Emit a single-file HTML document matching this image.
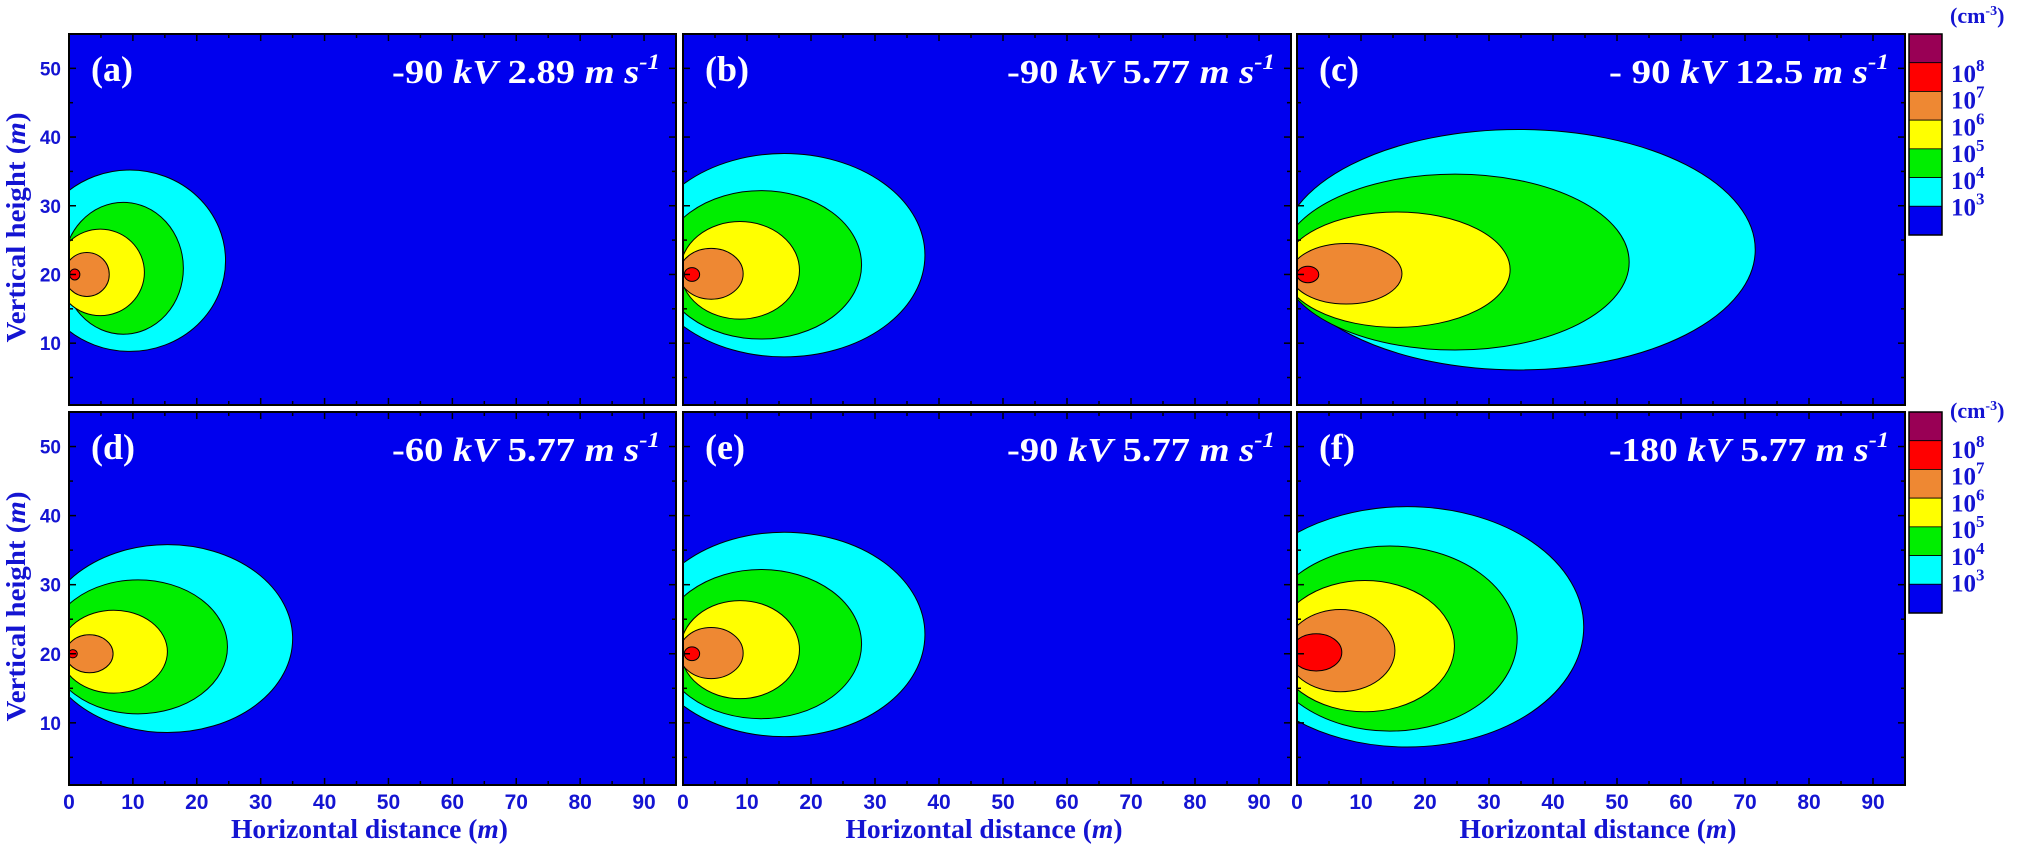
<!DOCTYPE html>
<html><head><meta charset="utf-8"><style>
html,body{margin:0;padding:0;background:#fff;}
svg{display:block;}
</style></head><body>
<svg id="fig" width="2019" height="848" viewBox="0 0 2019 848" xmlns="http://www.w3.org/2000/svg"></svg>
<script>
// ---- data ----
const panelLetters = ["(a)","(b)","(c)","(d)","(e)","(f)"];
const panelVoltage = ["-90","-90","- 90","-60","-90","-180"];
const panelSpeed = ["2.89","5.77","12.5","5.77","5.77","5.77"];
const xTicks = [0,10,20,30,40,50,60,70,80,90];
const yTicks = [10,20,30,40,50];
const levelColors = ["#00ffff","#00ee00","#ffff00","#ee8833","#ff0000"];
const barColors = ["#990055","#ff0000","#ee8833","#ffff00","#00ee00","#00ffff","#0000ee"];
const barExponents = ["8","7","6","5","4","3"];
// contour ellipses [cx, cy, rx, ry] in data units (m), one per panel
const cyanLevel   = [[9.5,22,15,13.2],[15.8,22.8,22,14.8],[34.6,23.6,37,17.5],[15.4,22.2,19.6,13.6],[15.8,22.8,22,14.8],[17.2,23.9,27.6,17.4]];
const greenLevel  = [[8.5,20.9,9.4,9.6],[12.2,21.4,15.7,10.8],[24.7,21.8,27.2,12.8],[10.8,21,14,9.7],[12.2,21.4,15.7,10.8],[14.5,22.2,19.9,13.4]];
const yellowLevel = [[4.9,20.3,6.9,6.3],[8.9,20.6,9.3,7.1],[15.6,20.7,17.7,8.4],[7,20.3,8.4,6],[8.9,20.6,9.3,7.1],[10.6,21.1,14,9.5]];
const orangeLevel = [[2.8,20,3.5,3.2],[4.4,20.1,5,3.7],[7.7,20.1,8.7,4.4],[3.2,20,3.7,2.75],[4.4,20.1,5,3.7],[6.8,20.45,8.5,5.95]];
const redLevel    = [[0.9,20,0.8,0.8],[1.4,20,1.2,1.0],[1.7,20,1.7,1.2],[0.6,20,0.7,0.6],[1.4,20,1.2,1.0],[3.0,20.2,4,2.7]];
const levels = [cyanLevel, greenLevel, yellowLevel, orangeLevel, redLevel];

// ---- layout ----
const NS = "http://www.w3.org/2000/svg";
const svg = document.getElementById("fig");
const colL = [69,683,1297], colR = [676,1291,1905];
const rowT = [34,412], rowB = [405,785];
const XMIN=0, XMAX=95, YMIN=1, YMAX=55;
const BLUE_TXT = "#1414d2";
function mk(tag, attrs, parent){const e=document.createElementNS(NS,tag);for(const k in attrs)e.setAttribute(k,attrs[k]);(parent||svg).appendChild(e);return e;}

const defs = mk("defs",{});
for(let p=0;p<6;p++){
  const c=p%3, r=Math.floor(p/3);
  const L=colL[c], R=colR[c], T=rowT[r], B=rowB[r];
  const sx = v => L + (v-XMIN)/(XMAX-XMIN)*(R-L);
  const sy = v => B - (v-YMIN)/(YMAX-YMIN)*(B-T);
  const kx = (R-L)/(XMAX-XMIN), ky=(B-T)/(YMAX-YMIN);
  const cp = mk("clipPath",{id:"clip"+p},defs);
  mk("rect",{x:L,y:T,width:R-L,height:B-T},cp);
  const g = mk("g",{"clip-path":"url(#clip"+p+")"});
  
  
  const bg = mk("rect",{x:L,y:T,width:R-L,height:B-T,fill:"#0000ee"},g);
  
  
  levels.forEach((lv,i)=>{
    const d=lv[p];
    const e=mk("ellipse",{cx:sx(d[0]),cy:sy(d[1]),rx:d[2]*kx,ry:d[3]*ky,fill:levelColors[i],stroke:"#000","stroke-width":1},g);
    
    
  });
  const fr = mk("rect",{x:L,y:T,width:R-L,height:B-T,fill:"none",stroke:"#000","stroke-width":2});
  
  
  for(let v=0; v<=XMAX; v+=5){
    const x=sx(v), len = v%10===0?7:4;
    mk("line",{x1:x,y1:B,x2:x,y2:B-len,stroke:"#000","stroke-width":1.5});
    mk("line",{x1:x,y1:T,x2:x,y2:T+len,stroke:"#000","stroke-width":1.5});
  }
  for(let v=5; v<=YMAX; v+=5){
    const y=sy(v), len = v%10===0?7:4;
    mk("line",{x1:L,y1:y,x2:L+len,y2:y,stroke:"#000","stroke-width":1.5});
    mk("line",{x1:R,y1:y,x2:R-len,y2:y,stroke:"#000","stroke-width":1.5});
  }
  if(r===1){
    xTicks.forEach(v=>{
      const t=mk("text",{x:sx(v),y:B+24,"text-anchor":"middle","font-family":"Liberation Sans, sans-serif","font-weight":"bold","font-size":21,fill:BLUE_TXT});
      t.textContent=v;
      
      
    });
    const xt=mk("text",{x:(L+R)/2-3,y:838,"text-anchor":"middle","font-family":"Liberation Serif, serif","font-weight":"bold","font-size":27,fill:BLUE_TXT,textLength:277,lengthAdjust:"spacingAndGlyphs"});
    xt.innerHTML='Horizontal distance (<tspan font-style="italic">m</tspan>)';
    
    
  }
  if(c===0){
    yTicks.forEach(v=>{
      const t=mk("text",{x:61,y:sy(v)+7,"text-anchor":"end","font-family":"Liberation Sans, sans-serif","font-weight":"bold","font-size":19,fill:BLUE_TXT});
      t.textContent=v;
      
      
    });
    const cy=(T+B)/2+8;
    const yt=mk("text",{x:0,y:0,"text-anchor":"middle","font-family":"Liberation Serif, serif","font-weight":"bold","font-size":27,fill:BLUE_TXT,textLength:230,lengthAdjust:"spacingAndGlyphs",transform:`translate(25,${cy}) rotate(-90)`});
    yt.innerHTML='Vertical  height (<tspan font-style="italic">m</tspan>)';
    
    
  }
  const lt=mk("text",{x:L+22,y:T+47,"font-family":"Liberation Serif, serif","font-weight":"bold","font-size":36,fill:"#fff"});
  lt.textContent=panelLetters[p];
  
  
  const ttl=mk("text",{x:R-16,y:T+49,"text-anchor":"end","font-family":"Liberation Serif, serif","font-weight":"bold","font-size":34,fill:"#fff",textLength:p===5||p===2?280:268,lengthAdjust:"spacingAndGlyphs"});
  ttl.innerHTML=panelVoltage[p]+' <tspan font-style="italic">kV</tspan> '+panelSpeed[p]+' <tspan font-style="italic">m s</tspan><tspan font-style="italic" font-size="22" dy="-14">-1</tspan>';
  
  
}

// colorbars
[0,1].forEach(r=>{
  const top = rowT[r], h = 201/7;
  const off = r===0?0:376;
  barColors.forEach((col,i)=>{
    const b=mk("rect",{x:1909,y:top+i*h,width:33,height:h,fill:col,stroke:"#000","stroke-width":0.8});
    
    
  });
  const fr=mk("rect",{x:1909,y:top,width:33,height:201,fill:"none",stroke:"#000","stroke-width":1.5});
  
  
  barExponents.forEach((ex,i)=>{
    const t=mk("text",{x:1951,y:82+off+i*26.7,"font-family":"Liberation Serif, serif","font-weight":"bold","font-size":25,fill:BLUE_TXT});
    t.innerHTML='10<tspan font-size="17" dy="-11">'+ex+'</tspan>';
    
    
  });
  const u=mk("text",{x:1950,y:r===0?23:418,"font-family":"Liberation Serif, serif","font-weight":"bold","font-size":22,fill:BLUE_TXT});
  u.innerHTML='(cm<tspan font-size="14" dy="-8">-3</tspan><tspan dy="8">)</tspan>';
  
  
});
</script>
</body></html>
